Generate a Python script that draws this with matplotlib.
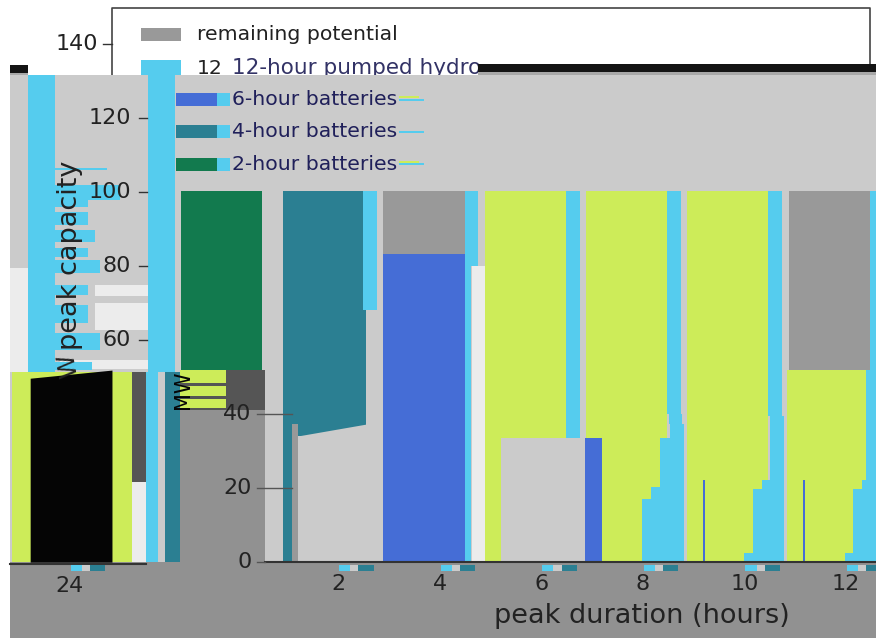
import matplotlib
matplotlib.use("Agg")
import matplotlib.pyplot as plt

GREEN = "#127a4e"
TEAL = "#2b7f92"
BLUE = "#456dd6"
CYAN = "#55ccee"
LIME = "#cdec59"
GRAY = "#999999"
LIGHT = "#cbcbcb"
PALE = "#ececec"
BOTTOM = "#919191"
DARK = "#555555"
BLACK = "#050505"
INK = "#222222"

# hours / MW: (left, right, bottom, top)
background = [(-4.46, 12.59, 0, 131.6)]
floor = [(-4.46, 12.59, -20.5, 0), (-1.11, 0.56, 0, 41.1)]
black_strip = [(-4.46, -4.10, 132.2, 134.3), (4.76, 12.59, 132.4, 134.6)]
grey_strip = [(-4.46, -4.10, 131.6, 132.2), (4.76, 12.59, 131.6, 132.4)]

green_bars = [(-1.09, 0.50, 51.9, 100.3)]
teal_bars = [(0.92, 2.55, 34, 100.3), (0.92, 1.09, 0, 40), (-1.41, -1.11, 0, 51.4)]
blue_bars = [(2.89, 4.50, 0, 83.2), (6.86, 7.20, 0, 33.5), (9.18, 9.22, 0, 22.2), (11.15, 11.19, 0, 22.2)]
grey_bars = [(2.89, 4.50, 83.2, 100.3), (10.88, 12.47, 51.9, 100.3), (1.09, 1.21, 0, 37.3)]
lime_bars = [(4.89, 6.49, 0, 100.3), (6.88, 8.47, 0, 100.3), (8.87, 10.46, 0, 100.3),
             (10.84, 12.47, 0, 51.9), (-4.42, -2.06, 0, 51.4)]
pale_bars = [(4.64, 4.89, 0, 80), (-4.46, -4.10, 51.4, 79.5), (-3.47, -1.74, 52.2, 54.6),
             (-2.78, -1.74, 71.9, 74.9), (-2.78, -1.74, 62.7, 70), (-2.06, -1.78, 0, 21.6)]
light_bars = [(5.21, 6.86, 0, 33.5)]
dark_bars = [(-2.06, -1.78, 21.6, 51.4), (-1.11, 0.56, 41.1, 51.9)]

cyan_bars = [(-4.10, -3.57, 51.4, 131.6), (-1.74, -1.21, 51.4, 131.6),
             (2.49, 2.77, 68.1, 100.3), (4.50, 4.76, 80, 100.3), (4.50, 4.62, 0, 80),
             (6.49, 6.76, 33.5, 100.3),
             (8.47, 8.75, 40, 100.3), (8.51, 8.78, 37.3, 40), (8.53, 8.81, 33.5, 37.3),
             (8.34, 8.81, 20.3, 33.5), (8.16, 8.81, 17, 20.3), (7.98, 8.81, 0, 17),
             (10.46, 10.74, 39.5, 100.3), (10.50, 10.78, 22.2, 39.5),
             (10.35, 10.78, 19.7, 22.2), (10.17, 10.78, 2.4, 19.7), (9.99, 10.78, 0, 2.4),
             (12.47, 12.59, 51.9, 100.3), (12.39, 12.59, 22.2, 51.9),
             (12.31, 12.59, 19.7, 22.2), (12.14, 12.59, 2.4, 19.7), (11.98, 12.59, 0, 2.4),
             (-1.78, -1.54, 0, 51.4)]
# streaks the picture has on the left of the y axis and behind the legend
streaks = [(-3.57, -2.55, 106, 106.5), (-3.57, -2.3, 97.8, 101.9), (-3.57, -2.92, 95.9, 97.8),
           (-3.57, -2.92, 91, 94.6), (-3.57, -2.78, 86.5, 89.7), (-3.57, -2.92, 82.4, 85),
           (-3.57, -2.68, 78.1, 81.6), (-3.57, -2.92, 72.2, 74.9), (-3.57, -2.92, 64.6, 69.5),
           (-3.57, -2.68, 57.3, 61.9), (-3.57, -2.85, 52, 54),
           (-0.38, -0.13, 123.2, 126.8), (-0.38, -0.13, 114.6, 118.1),
           (-0.38, -0.13, 105.7, 109.2), (3.2, 3.7, 124.6, 125.2), (3.2, 3.7, 116, 116.6),
           (3.2, 3.7, 107.2, 107.8)]
lime_streaks = [(-1.11, -0.2, 48.5, 51.9), (-1.11, -0.2, 45, 47.5), (-1.11, -0.2, 41.6, 44),
                (3.2, 3.6, 125.4, 125.9), (3.2, 3.6, 107.8, 108.3)]

slant_x = [1.21, 2.55]
slant_top = [34.1, 37.3]
black_x = [-4.06, -2.45]
black_top = [49.7, 51.9]
black_bottom = [0, 0]

legend_patches = [(-1.88, -1.09, 140.8, 144.3, GRAY), (-1.88, -1.09, 131.6, 135.7, CYAN),
                  (-1.19, -0.38, 123.2, 126.8, BLUE), (-1.19, -0.38, 114.6, 118.1, TEAL),
                  (-1.19, -0.38, 105.7, 109.2, GREEN)]
legend_labels = ["remaining potential", "12-hour pumped hydro", "6-hour batteries",
                 "4-hour batteries", "2-hour batteries"]
legend_x = [-0.78, -0.08, -0.08, -0.08, -0.08]
legend_y = [142.6, 133.4, 124.9, 116.5, 107.4]

xtick_vals = [2, 4, 6, 8, 10, 12]
xtick_labels = ["2", "4", "6", "8", "10", "12"]
ytick_left = [140, 120, 100, 80, 60]
ytick_right = [40, 20, 0]

fig = plt.figure(figsize=(8.76, 6.38), dpi=100)
ax = fig.add_axes([0, 0, 1, 1])
ax.set_xlim(-4.654, 12.59)
ax.set_ylim(-20.5, 151.9)
ax.axis("off")


def draw(rows, color, zorder):
    for left, right, low, high in rows:
        ax.bar(left, high - low, width=right - left, bottom=low, align="edge",
               color=color, linewidth=0, zorder=zorder)


# legend frame, its top half survives above the grey block
ax.plot([-2.45, -2.45, 12.47, 12.47], [131.6, 149.7, 149.7, 134], color="#444444", lw=1.2, zorder=1)
for left, right, low, high, col in legend_patches[:2]:
    draw([(left, right, low, high)], col, 1)
ax.text(legend_x[0], legend_y[0], legend_labels[0], fontsize=14.7, color=INK, va="center", zorder=2)
ax.text(-0.78, legend_y[1], "12", fontsize=14.7, color=INK, va="center", zorder=2)
ax.text(legend_x[1], legend_y[1], legend_labels[1], fontsize=15.5, color="#333366", va="center", zorder=2)

draw(background, LIGHT, 3)
draw(black_strip, "#141414", 3)
draw(grey_strip, "#a8a8a8", 3)
draw(floor, BOTTOM, 4)
draw(pale_bars, PALE, 4)
draw(light_bars, LIGHT, 6)
draw(green_bars, GREEN, 5)
draw(teal_bars, TEAL, 5)
draw(lime_bars, LIME, 5)
draw(blue_bars, BLUE, 6)
draw(grey_bars, GRAY, 6)
draw(dark_bars, DARK, 5)
draw(cyan_bars, CYAN, 6)
draw(streaks, CYAN, 6)
draw(lime_streaks, LIME, 7)
ax.fill_between(slant_x, 0, slant_top, color=LIGHT, linewidth=0, zorder=6)
ax.fill_between(black_x, black_bottom, black_top, color=BLACK, linewidth=0, zorder=7)

for left, right, low, high, col in legend_patches[2:]:
    draw([(left, right, low, high)], col, 7)
for i in range(2, 5):
    ax.text(legend_x[i], legend_y[i], legend_labels[i], fontsize=14.7, color="#20205a", va="center", zorder=8)

# ticks and labels
ax.plot([-4.46, -1.78], [-0.5, -0.5], color="#333333", lw=1.5, zorder=8)
ax.plot([0.56, 12.59], [0, 0], color="#333333", lw=1.5, zorder=8)
for v, lab in zip(xtick_vals, xtick_labels):
    ax.text(v, -6, lab, fontsize=16, color=INK, ha="center", va="center", zorder=8)
    draw([(v + 0.02, v + 0.24, -2.3, -0.7)], CYAN, 8)
    draw([(v + 0.24, v + 0.40, -2.3, -0.7)], LIGHT, 8)
    draw([(v + 0.40, v + 0.70, -2.3, -0.7)], TEAL, 8)
ax.text(-3.28, -6.5, "24", fontsize=16, color=INK, ha="center", va="center", zorder=8)
draw([(-3.26, -3.04, -2.3, -0.7)], CYAN, 8)
draw([(-3.04, -2.88, -2.3, -0.7)], LIGHT, 8)
draw([(-2.88, -2.58, -2.3, -0.7)], TEAL, 8)

for v in ytick_left:
    ax.text(-2.08 if v < 140 else -2.72, v, str(v), fontsize=16, color=INK, ha="right", va="center", zorder=8)
    ax.plot([-1.92, -1.76] if v < 140 else [-2.62, -2.45], [v, v], color="#333333", lw=1, zorder=8)
for v in ytick_right:
    ax.text(0.30, v, str(v), fontsize=16, color=INK, ha="right", va="center", zorder=8)
    ax.plot([0.40, 1.09] if v else [0.40, 0.56], [v, v], color="#555555", lw=1, zorder=8)

ax.text(-3.28, 57.3, "peak capacity", fontsize=19.5, color=INK, rotation=90, ha="center", va="bottom", zorder=8)
ax.text(-3.30, 53, "W", fontsize=17, color=INK, rotation=100, ha="center", va="center", zorder=8)
ax.text(-1.05, 46.5, "MW", fontsize=15, color=BLACK, rotation=90, ha="center", va="center", zorder=8)
ax.text(7.98, -14.5, "peak duration (hours)", fontsize=19.5, color=INK, ha="center", va="center", zorder=8)

fig.savefig("out.png", dpi=100)
